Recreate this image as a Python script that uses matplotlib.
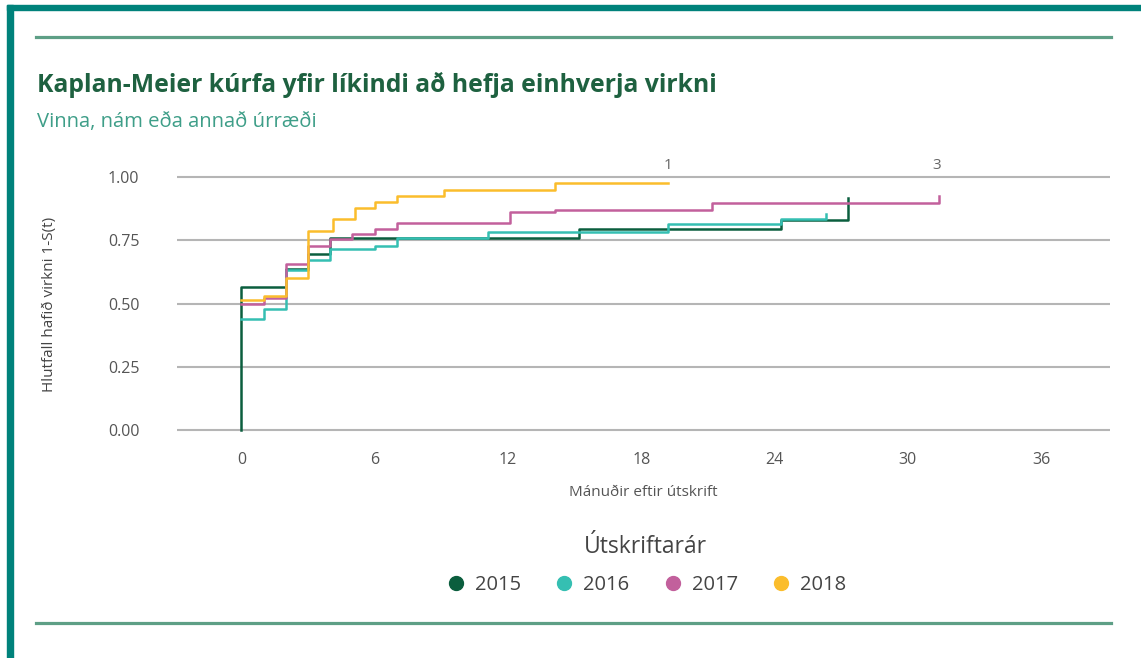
import matplotlib
matplotlib.use('Agg')
import matplotlib.pyplot as plt
import matplotlib.patches as patches
from matplotlib.lines import Line2D

W, H = 1141, 658

# data (months after graduation, cumulative share)
years = ['2015', '2016', '2017', '2018']
colors = ['#0b5e3e', '#35bfb2', '#c2609c', '#fbbd2c']

t_2015 = [0, 0, 2, 3, 4, 15.2, 24.3, 27.3]
s_2015 = [0.0, 0.566, 0.635, 0.694, 0.757, 0.794, 0.83, 0.916]

t_2016 = [0, 1, 2, 3, 4, 6, 7, 11.1, 19.2, 24.3, 26.3]
s_2016 = [0.44, 0.48, 0.632, 0.672, 0.715, 0.727, 0.76, 0.784, 0.814, 0.833, 0.853]

t_2017 = [0, 1, 2, 3, 4, 5, 6, 7, 12.1, 14.1, 21.2, 31.4]
s_2017 = [0.50, 0.52, 0.656, 0.728, 0.754, 0.773, 0.794, 0.82, 0.86, 0.87, 0.898, 0.926]

t_2018 = [0, 1, 2, 3, 4.1, 5.1, 6, 7, 9.1, 14.1, 19.2]
s_2018 = [0.514, 0.53, 0.602, 0.786, 0.833, 0.879, 0.902, 0.926, 0.949, 0.975, 0.975]

times = [t_2015, t_2016, t_2017, t_2018]
surv = [s_2015, s_2016, s_2017, s_2018]

x_ticks = [0, 6, 12, 18, 24, 30, 36]
y_ticks = [0.0, 0.25, 0.5, 0.75, 1.0]
y_ticklabels = ['0.00', '0.25', '0.50', '0.75', '1.00']

# numbers printed above the curve ends
notes = [(19.2, '1'), (31.3, '3')]

plt.rcParams['font.family'] = ['Open Sans', 'DejaVu Sans']

fig = plt.figure(figsize=(W / 100, H / 100), dpi=100)

# frame: teal border on top and left
teal = '#00827b'
fig.patches.append(patches.Rectangle((7 / W, (H - 10) / H), 1 - 7 / W, 5 / H,
                                     transform=fig.transFigure, color=teal, zorder=0))
fig.patches.append(patches.Rectangle((7 / W, 0), 6 / W, (H - 5) / H,
                                     transform=fig.transFigure, color=teal, zorder=0))

# green rules
for yy in [37, 623]:
    fig.add_artist(Line2D([36 / W, 1111 / W], [1 - yy / H, 1 - yy / H],
                          transform=fig.transFigure, color='#5e9f86', lw=2.3))

fig.text(37 / W, 1 - 85 / H, 'Kaplan-Meier kúrfa yfir líkindi að hefja einhverja virkni',
         fontsize=17.8, fontweight='bold', color='#1e6140', va='center', ha='left')
fig.text(37 / W, 1 - 122 / H, 'Vinna, nám eða annað úrræði',
         fontsize=14.6, color='#3e9e88', va='center', ha='left')

# axes placement
x0, x1 = -2.9, 39.1
y0, y1 = -0.05, 1.05
ax_left, ax_right = 177, 1110
ax_top = 177 - 0.05 * 253
ax_bot = 430 + 0.05 * 253
ax = fig.add_axes([ax_left / W, 1 - ax_bot / H, (ax_right - ax_left) / W, (ax_bot - ax_top) / H])
ax.set_xlim(x0, x1)
ax.set_ylim(y0, y1)

for t, s, c in zip(times, surv, colors):
    ax.step(t, s, where='post', color=c, lw=1.8, zorder=3)

for xx, lab in notes:
    ax.text(xx, 1.045, lab, ha='center', va='center', fontsize=11, color='#666666', clip_on=False)

ax.set_yticks(y_ticks)
ax.set_yticklabels(y_ticklabels)
ax.set_xticks(x_ticks)
ax.yaxis.grid(True, color='#b5b5b5', lw=1.5)
ax.set_axisbelow(True)
for sp in ax.spines.values():
    sp.set_visible(False)
ax.tick_params(axis='y', length=0, pad=27, labelsize=11.5, labelcolor='#555555')
ax.tick_params(axis='x', length=0, pad=7, labelsize=11.5, labelcolor='#555555')

ax.set_xlabel('Mánuðir eftir útskrift', fontsize=11, color='#555555', labelpad=12)
fig.text(50 / W, 1 - 304 / H, 'Hlutfall hafið virkni 1-S(t)', rotation=90,
         fontsize=11, color='#444444', ha='center', va='center')

handles = [Line2D([], [], marker='o', ls='none', markersize=10, color=c) for c in colors]
leg = fig.legend(handles, years, loc='center', bbox_to_anchor=(645 / W, 1 - 565 / H),
                 ncol=4, frameon=False, title='Útskriftarár', fontsize=14.5,
                 title_fontsize=16.5, handletextpad=0.35, columnspacing=1.55,
                 handlelength=1.2)
leg._legend_box.sep = 11
for txt in leg.get_texts():
    txt.set_color('#444444')
leg.get_title().set_color('#444444')

fig.savefig('out.png', dpi=100)
